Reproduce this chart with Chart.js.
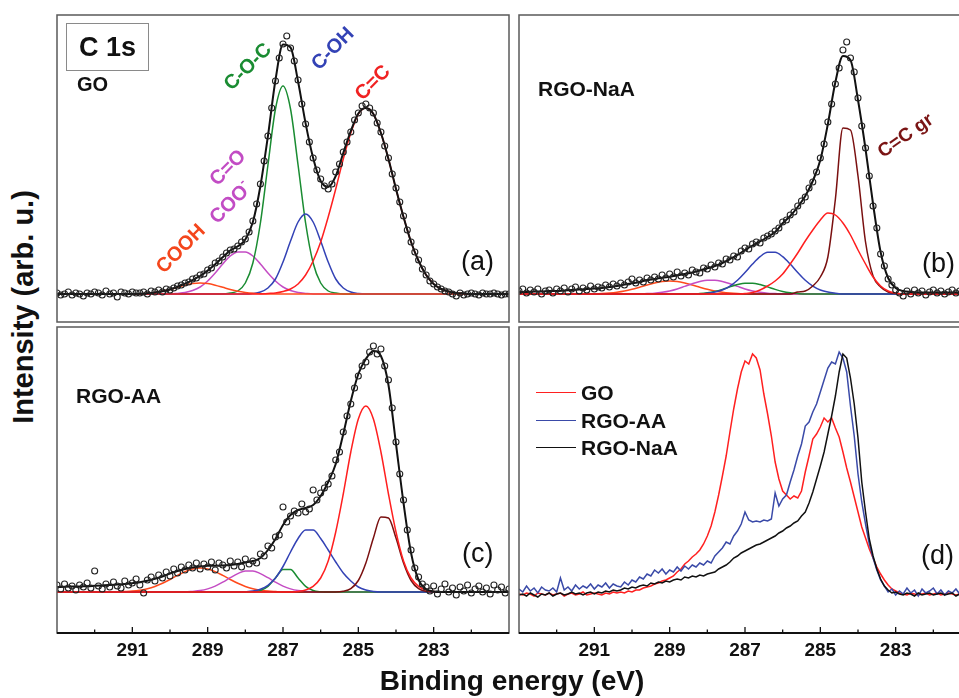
<!DOCTYPE html>
<html>
<head>
<meta charset="utf-8">
<script src="https://cdn.jsdelivr.net/npm/chart.js@4.4.0/dist/chart.umd.min.js"></script>
<style>
html, body { margin:0; padding:0; background:#fff; width:959px; height:698px; overflow:hidden; }
body { position:relative; font-family:"Liberation Sans", Arial, sans-serif; color:#111; }
canvas { position:absolute; }
.t { position:absolute; white-space:nowrap; font-weight:bold; line-height:1; }
.n { font-weight:normal; }
.r45 { transform:translate(-50%,-50%) rotate(-45deg); }
.box { position:absolute; left:66px; top:23px; width:81px; height:46px; border:1px solid #8a8a8a;
       font-weight:bold; font-size:27px; line-height:46px; text-align:center; }
.key { position:absolute; left:536px; width:40px; height:0; border-top:1.6px solid; }
</style>
</head>
<body>

<canvas id="pa" width="456" height="311" style="left:55px;top:13px"></canvas>
<canvas id="pb" width="456" height="311" style="left:517px;top:13px"></canvas>
<canvas id="pc" width="456" height="348" style="left:55px;top:325px"></canvas>
<canvas id="pd" width="456" height="348" style="left:517px;top:325px"></canvas>

<div class="box">C 1s</div>
<div class="t" style="left:77px;top:74px;font-size:20px">GO</div>
<div class="t r45" style="left:180px;top:248px;font-size:20px;color:#f4461c">COOH</div>
<div class="t r45" style="left:227px;top:167px;font-size:20px;color:#c24cc4">C=O</div>
<div class="t r45" style="left:229px;top:201px;font-size:20px;color:#c24cc4">COO<span style="font-size:13px;vertical-align:9px">-</span></div>
<div class="t r45" style="left:247px;top:66px;font-size:20px;color:#1a8c32">C-O-C</div>
<div class="t r45" style="left:332px;top:48px;font-size:20px;color:#3342b5">C-OH</div>
<div class="t r45" style="left:372px;top:82px;font-size:20px;color:#f02222">C=C</div>
<div class="t n" style="left:461px;top:248px;font-size:27px">(a)</div>

<div class="t" style="left:538px;top:78px;font-size:21px">RGO-NaA</div>
<div class="t" style="left:905px;top:135px;font-size:19px;color:#7a1414;transform:translate(-50%,-50%) rotate(-35deg)">C=C gr</div>
<div class="t n" style="left:922px;top:250px;font-size:27px">(b)</div>

<div class="t" style="left:76px;top:385px;font-size:21px">RGO-AA</div>
<div class="t n" style="left:462px;top:540px;font-size:27px">(c)</div>

<div class="key" style="top:392px;border-color:#ff2020"></div>
<div class="key" style="top:420px;border-color:#3a4aa8"></div>
<div class="key" style="top:447px;border-color:#111"></div>
<div class="t" style="left:581px;top:382px;font-size:21px">GO</div>
<div class="t" style="left:581px;top:410px;font-size:21px">RGO-AA</div>
<div class="t" style="left:581px;top:437px;font-size:21px">RGO-NaA</div>
<div class="t n" style="left:921px;top:542px;font-size:27px">(d)</div>

<div class="t" style="left:23px;top:307px;font-size:29px;transform:translate(-50%,-50%) rotate(-90deg)">Intensity (arb. u.)</div>
<div class="t" style="left:512px;top:681px;font-size:28px;transform:translate(-50%,-50%)">Binding energy (eV)</div>

<script>
// energy grids (eV): measured points every 0.1, fitted curves every 0.2
var E01 = [293.0,292.9,292.8,292.7,292.6,292.5,292.4,292.3,292.2,292.1,
  292.0,291.9,291.8,291.7,291.6,291.5,291.4,291.3,291.2,291.1,
  291.0,290.9,290.8,290.7,290.6,290.5,290.4,290.3,290.2,290.1,
  290.0,289.9,289.8,289.7,289.6,289.5,289.4,289.3,289.2,289.1,
  289.0,288.9,288.8,288.7,288.6,288.5,288.4,288.3,288.2,288.1,
  288.0,287.9,287.8,287.7,287.6,287.5,287.4,287.3,287.2,287.1,
  287.0,286.9,286.8,286.7,286.6,286.5,286.4,286.3,286.2,286.1,
  286.0,285.9,285.8,285.7,285.6,285.5,285.4,285.3,285.2,285.1,
  285.0,284.9,284.8,284.7,284.6,284.5,284.4,284.3,284.2,284.1,
  284.0,283.9,283.8,283.7,283.6,283.5,283.4,283.3,283.2,283.1,
  283.0,282.9,282.8,282.7,282.6,282.5,282.4,282.3,282.2,282.1,
  282.0,281.9,281.8,281.7,281.6,281.5,281.4,281.3,281.2,281.1,
  281.0];
var E02 = [293.0,292.8,292.6,292.4,292.2,292.0,291.8,291.6,291.4,291.2,
  291.0,290.8,290.6,290.4,290.2,290.0,289.8,289.6,289.4,289.2,
  289.0,288.8,288.6,288.4,288.2,288.0,287.8,287.6,287.4,287.2,
  287.0,286.8,286.6,286.4,286.2,286.0,285.8,285.6,285.4,285.2,
  285.0,284.8,284.6,284.4,284.2,284.0,283.8,283.6,283.4,283.2,
  283.0,282.8,282.6,282.4,282.2,282.0,281.8,281.6,281.4,281.2,
  281.0];
var majorTicks = [291, 289, 287, 285, 283];
var minorTicks = [292, 290, 288, 286, 284, 282];

// ---- (a) GO ----
var aPts = [1,-1,0,2,-1,1,0,-2,1,0, 2,1,-1,3,0,1,-3,2,1,0, 2,1,1,2,0,3,2,4,2,5,
  4,6,8,9,11,12,15,16,19,20, 24,26,31,33,37,41,44,45,48,52, 55,62,73,90,110,133,158,186,213,236,
  250,258,246,233,214,190,170,152,136,124, 115,108,105,110,122,130,142,152,162,174,
  181,188,190,186,181,171,162,148,136,120, 106,92,78,64,52,42,34,25,19,13,
  10,7,5,3,2,0,-2,1,-1,0, 1,0,-1,1,0,0,1,0,-1,0, 0];
var aFit = [0,0,0,0,0,0,0,0,0,0, 0.1,0.3,0.7,1.5,2.7,4.5,7.3,10.3,13.9,18,
  23.4,29.8,36.7,43.5,47.7,54.5,72,108,158,214, 249.5,246.5,212.5,170.6,136,113,107,118,141,163,
  180.5,186,180,161,135,105,77,52,33,19, 10,5,2.5,1,0.5,0,0,0,0,0, 0];
var aCOOH = [0,0,0,0,0,0,0,0,0,0, 0,0.3,0.7,1.5,2.7,4.5,6.7,8.8,10.4,11,
  10.4,8.8,6.7,4.5,2.7,1.5,0.7,0.3,0,0, 0,0,0,0,0,0,0,0,0,0,
  0,0,0,0,0,0,0,0,0,0, 0,0,0,0,0,0,0,0,0,0, 0];
var aCO = [0,0,0,0,0,0,0,0,0,0, 0,0,0,0,0,0,0.6,1.5,3.5,7,
  13,21,30,38,42,42,38,30,21,13, 7,3.5,1.5,0.6,0,0,0,0,0,0,
  0,0,0,0,0,0,0,0,0,0, 0,0,0,0,0,0,0,0,0,0, 0];
var aCOC = [0,0,0,0,0,0,0,0,0,0, 0,0,0,0,0,0,0,0,0,0,
  0,0,0,1,3,11,31,71,129,185, 208,185,129,71,31,11,3,1,0,0,
  0,0,0,0,0,0,0,0,0,0, 0,0,0,0,0,0,0,0,0,0, 0];
var aCOH = [0,0,0,0,0,0,0,0,0,0, 0,0,0,0,0,0,0,0,0,0,
  0,0,0,0,0,0,0.5,2,6,15, 32,53,72,80,72,53,32,15,6,2,
  0.5,0,0,0,0,0,0,0,0,0, 0,0,0,0,0,0,0,0,0,0, 0];
var aCC = [0,0,0,0,0,0,0,0,0,0, 0,0,0,0,0,0,0,0,0,0,
  0,0,0,0,0,0,0,0,0.5,1, 2.5,5,10,19,33,52,77,105,135,161,
  180,186,180,161,135,105,77,52,33,19, 10,5,2.5,1,0.5,0,0,0,0,0, 0];

// ---- (b) RGO-NaA ----
var bPts = [3,5,1,4,2,5,0,3,4,1, 5,3,6,2,5,7,3,6,4,8, 5,7,6,9,7,10,8,11,9,12,
  15,11,14,12,16,14,17,15,19,16, 20,17,22,18,21,19,24,22,21,26, 25,29,27,31,30,35,34,38,37,43,
  46,45,50,52,51,56,58,60,63,66, 72,74,79,82,88,93,97,106,112,122,
  136,150,172,190,210,226,244,252,236,222, 196,168,146,118,88,66,40,28,15,9,
  4,1,-2,3,0,4,1,3,-1,2, 4,1,3,0,2,4,1,3,0,2, 3];
var bFit = [2,2,2.5,2.5,3,3,3.5,4,4.5,5, 5.5,6,7,8,9.5,10.7,12,14,15,16.3,
  17.3,18.5,20,21.5,23.5,25.7,28,31,35,39, 44,48.5,52.5,57,62,70.7,78,87,98,113,
  134,170,212,238,234,194,145,90,42,16, 6,3,2,1.5,1.5,1.5,1.5,1.5,1.5,1.5, 1.5];
var bCCgr = [0,0,0,0,0,0,0,0,0,0, 0,0,0,0,0,0,0,0,0,0,
  0,0,0,0,0,0,0,0,0,0, 0,0,0,0,0,0,0,2,3,8,
  17,37,95,166,164,118,52,18,7,2, 0.5,0,0,0,0,0,0,0,0,0, 0];
var bCC = [0,0,0,0,0,0,0,0,0,0, 0,0,0,0,0,0,0,0,0,0,
  0,0,0,0,0,0,0,0,0,0, 0.5,1.5,4,8,13,20,30,41,53,64,
  74,81,79,71,59,44,30,17,8,3, 1,0,0,0,0,0,0,0,0,0, 0];
var bCOH = [0,0,0,0,0,0,0,0,0,0, 0,0,0,0,0,0,0,0,0,0,
  0,0,0,0,0,0.8,1.9,4,7.9,13.7, 21.4,29.9,37.3,41.7,41.7,37.3,29.9,21.4,13.7,7.9,
  4,1.9,0.8,0,0,0,0,0,0,0, 0,0,0,0,0,0,0,0,0,0, 0];
var bCOC = [0,0,0,0,0,0,0,0,0,0, 0,0,0,0,0,0,0,0,0,0,
  0,0,0,0,0.5,1.3,2.6,4.6,7.1,9.4, 10.8,10.8,9.4,7.1,4.6,2.6,1.3,0.5,0,0,
  0,0,0,0,0,0,0,0,0,0, 0,0,0,0,0,0,0,0,0,0, 0];
var bCO = [0,0,0,0,0,0,0,0,0,0, 0,0,0,0,0,0,0,0.4,0.8,1.7,
  3,5,7.6,10.2,12.5,13.8,13.8,12.5,10.2,7.6, 5,3,1.7,0.8,0.4,0,0,0,0,0,
  0,0,0,0,0,0,0,0,0,0, 0,0,0,0,0,0,0,0,0,0, 0];
var bCOOH = [0,0,0,0,0,0,0,0,0,0, 0.2,0.5,1,1.8,3,4.7,6.8,9,11,12.5,
  13,12.5,11,9,6.8,4.7,3,1.8,1,0.5, 0.2,0,0,0,0,0,0,0,0,0,
  0,0,0,0,0,0,0,0,0,0, 0,0,0,0,0,0,0,0,0,0, 0];

// ---- (c) RGO-AA ----
var cPts = [7,3,8,4,6,2,7,5,9,4, 21,6,3,8,5,10,6,4,11,7, 9,13,7,-1,12,15,11,17,14,20,
  16,23,19,25,22,27,24,29,23,28, 25,30,22,29,27,24,31,26,30,25, 33,28,31,29,38,36,46,44,55,57,
  85,70,76,81,79,88,80,83,102,92, 99,104,108,116,132,140,160,176,188,204,
  216,226,230,240,246,238,243,226,212,184, 150,118,92,62,42,24,15,8,5,1,
  6,-2,3,8,0,4,-3,5,1,7, -1,3,6,0,4,-2,7,2,5,-1, 3];
var cFit = [5,5.2,5.4,5.6,5.8,6.2,6.6,7,7.5,8, 8.8,9.8,11.3,13.2,15.5,18.5,21,23,24.5,25.5,
  26.2,26.3,26.5,27,28,29.5,31,34,42,53, 67,77,82,84,87,96,110,128,158,191,
  218,233,241,236,207,148,89,39,12,3, 0.5,0,0,0,0,0,0,0,0,0, 0];
var cCC = [0,0,0,0,0,0,0,0,0,0, 0,0,0,0,0,0,0,0,0,0,
  0,0,0,0,0,0,0,0,0,0, 0,0,0.6,2,5.7,14,31,60,98,140,
  173,186,173,140,98,60,31,14,5.7,2, 0.6,0,0,0,0,0,0,0,0,0, 0];
var cCCgr = [0,0,0,0,0,0,0,0,0,0, 0,0,0,0,0,0,0,0,0,0,
  0,0,0,0,0,0,0,0,0,0, 0,0,0,0,0,0,0,0,0.7,3.3,
  11.5,29,54,75,74,54,29,11.5,3.3,0.7, 0,0,0,0,0,0,0,0,0,0, 0];
var cCOH = [0,0,0,0,0,0,0,0,0,0, 0,0,0,0,0,0,0,0,0,0,
  0,0,0,0,0,0.3,1,2.8,6.7,14, 25.5,40,53.5,62,62,53.5,42,30,19,11,
  5,2,0.5,0,0,0,0,0,0,0, 0,0,0,0,0,0,0,0,0,0, 0];
var cCOC = [0,0,0,0,0,0,0,0,0,0, 0,0,0,0,0,0,0,0,0,0,
  0,0,0,0,0,0,0.25,1.5,5.7,14, 22.5,22.5,14,5.7,1.5,0.25,0,0,0,0,
  0,0,0,0,0,0,0,0,0,0, 0,0,0,0,0,0,0,0,0,0, 0];
var cCO = [0,0,0,0,0,0,0,0,0,0, 0,0,0,0,0,0,0,0,0.6,1.4,
  3.1,5.9,9.8,14.3,18.4,21,21,18.4,14.3,9.8, 5.9,3.1,1.4,0.6,0,0,0,0,0,0,
  0,0,0,0,0,0,0,0,0,0, 0,0,0,0,0,0,0,0,0,0, 0];
var cCOOH = [0,0,0,0,0,0,0,0,0,0.4, 0.9,1.8,3.2,5.5,8.7,12.5,16.6,20.4,23,24,
  23,20.4,16.6,12.5,8.7,5.5,3.2,1.8,0.9,0.4, 0,0,0,0,0,0,0,0,0,0,
  0,0,0,0,0,0,0,0,0,0, 0,0,0,0,0,0,0,0,0,0, 0];

// ---- (d) comparison ----
var dGO = [0,-1,1,0,-2,1,0,-1,1,-1, 0,1,-2,0,1,-1,0,2,-1,0, 1,0,-1,1,0,2,1,2,1,3,
  2,4,4,6,7,8,10,11,13,14, 16,18,22,25,30,33,37,40,44,50, 58,68,82,99,118,138,162,185,205,222,
  233,230,240,236,224,200,180,158,132,115, 103,99,95,98,96,103,122,138,155,160,
  167,176,172,176,166,157,142,126,112,97, 82,67,56,45,36,27,20,14,9,5,
  3,1,0,-1,1,0,-1,0,1,-1, 0,1,-1,0,1,0,-1,0,1,0, 0];
var dAA = [5,2,8,3,6,1,7,4,3,6, 2,16,4,7,3,9,5,8,6,10, 5,9,7,11,6,10,8,7,12,9,
  14,12,17,15,20,18,24,21,25,20, 24,22,27,23,28,25,29,27,31,29, 33,31,38,42,46,52,50,58,63,70,
  82,74,72,73,72,74,73,75,101,88, 95,99,112,124,138,150,168,172,182,190,
  202,214,226,232,230,242,236,222,188,158, 120,92,70,50,36,24,14,8,2,5,
  -1,3,0,6,1,4,-2,5,1,3, 6,0,4,-1,3,1,5,0,2,4, 1];
var dNaA = [-1,0,-2,1,-1,-3,0,-1,1,-2, 0,1,-1,0,2,0,1,-1,1,2, 0,2,1,3,2,4,3,4,6,5,
  7,6,8,9,8,11,10,12,11,13, 12,14,15,14,17,16,18,17,19,18, 20,21,22,25,27,29,32,36,38,41,
  43,45,47,49,50,52,54,56,58,61, 63,66,68,71,73,78,82,91,102,115,
  128,142,160,178,198,222,240,236,216,190, 156,112,82,55,38,25,15,8,4,1,
  2,0,-1,1,0,-2,1,-1,0,1, -1,0,1,-1,0,1,-2,0,1,0, -1];

Chart.defaults.font.family = '"Liberation Sans", Arial, sans-serif';

function pts(xs, ys) {
  return xs.map(function (x, i) { return { x: x, y: ys[i] }; });
}
function fitLine(ys, color, w) {
  return { data: pts(E02, ys), borderColor: color, borderWidth: w || 1.5, pointRadius: 0,
           cubicInterpolationMode: 'monotone', fill: false };
}
function dots(ys) {
  return { data: pts(E01, ys), showLine: false, pointRadius: 3, pointBorderWidth: 1.1,
           pointBorderColor: '#222', pointBackgroundColor: 'rgba(0,0,0,0)' };
}
function raw(ys, color) {
  return { data: pts(E01, ys), borderColor: color, borderWidth: 1.5, pointRadius: 0, tension: 0, fill: false };
}

// panel frame, plus the inward tick marks on the bottom row
function frame(withAxis) {
  return {
    id: 'frame',
    afterDatasetsDraw: function (chart) {
      var ctx = chart.ctx, a = chart.chartArea, x = chart.scales.x;
      ctx.save();
      ctx.strokeStyle = '#5a5a5a';
      ctx.lineWidth = 1.5;
      ctx.strokeRect(a.left, a.top, a.right - a.left, a.bottom - a.top);
      if (withAxis) {
        ctx.strokeStyle = '#111';
        ctx.lineWidth = 2;
        ctx.beginPath(); ctx.moveTo(a.left, a.bottom); ctx.lineTo(a.right, a.bottom); ctx.stroke();
        ctx.lineWidth = 1.3;
        ctx.beginPath();
        majorTicks.forEach(function (v) { var p = x.getPixelForValue(v); ctx.moveTo(p, a.bottom); ctx.lineTo(p, a.bottom - 6); });
        minorTicks.forEach(function (v) { var p = x.getPixelForValue(v); ctx.moveTo(p, a.bottom); ctx.lineTo(p, a.bottom - 3.5); });
        ctx.stroke();
      }
      ctx.restore();
    }
  };
}

function panel(id, datasets, yMin, yMax, withAxis) {
  var xScale = {
    type: 'linear', reverse: true, min: 281, max: 293, display: withAxis,
    grid: { display: false, drawTicks: false },
    border: { display: false },
    ticks: { padding: 6, color: '#111', font: { size: 19, weight: 'bold' }, maxRotation: 0, autoSkip: false }
  };
  if (withAxis) {
    xScale.afterBuildTicks = function (s) { s.ticks = majorTicks.map(function (v) { return { value: v }; }); };
    xScale.afterFit = function (s) { s.height = 40; };
  }
  return new Chart(document.getElementById(id), {
    type: 'line',
    data: { datasets: datasets },
    options: {
      responsive: false,
      animation: false,
      events: [],
      layout: { autoPadding: false, padding: withAxis ? { top: 2, left: 2, right: 2, bottom: 0 } : 2 },
      plugins: { legend: { display: false }, tooltip: { enabled: false } },
      scales: { x: xScale, y: { display: false, min: yMin, max: yMax } }
    },
    plugins: [frame(withAxis)]
  });
}

var RED = '#ff1f1f', GREEN = '#1a8c32', BLUE = '#3342b5', MAG = '#c44cc4', ORANGE = '#ff4a1c', DARKRED = '#7a1010';

panel('pa', [dots(aPts), fitLine(aFit, '#111', 2), fitLine(aCC, RED), fitLine(aCOOH, ORANGE),
  fitLine(aCOH, BLUE), fitLine(aCOC, GREEN), fitLine(aCO, MAG)], -28, 279, false);

panel('pb', [dots(bPts), fitLine(bFit, '#111', 2), fitLine(bCC, RED), fitLine(bCCgr, DARKRED),
  fitLine(bCOH, BLUE), fitLine(bCOC, GREEN), fitLine(bCO, MAG), fitLine(bCOOH, ORANGE)], -28, 279, false);

panel('pc', [dots(cPts), fitLine(cFit, '#111', 2), fitLine(cCC, RED), fitLine(cCCgr, DARKRED),
  fitLine(cCOH, BLUE), fitLine(cCOC, GREEN), fitLine(cCO, MAG), fitLine(cCOOH, ORANGE)], -41, 265, true);

panel('pd', [raw(dNaA, '#111'), raw(dAA, '#3a4aa8'), raw(dGO, '#ff2020')], -39, 267, true);
</script>
</body>
</html>
